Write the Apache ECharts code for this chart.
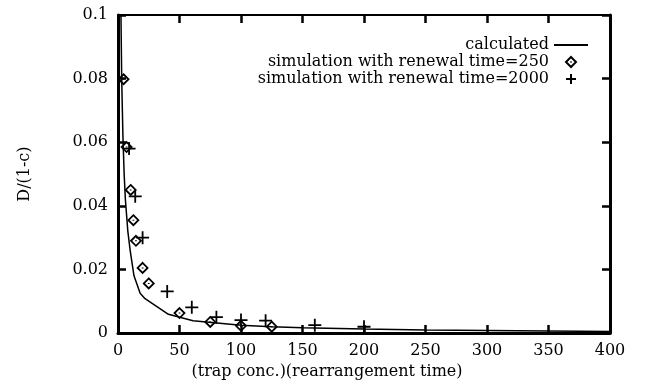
<!DOCTYPE html>
<html>
<head>
<meta charset="utf-8">
<script src="https://cdn.jsdelivr.net/npm/echarts@6/dist/echarts.min.js"></script>
<style>
  html,body{margin:0;padding:0;background:#fff}
  #chart{width:645px;height:385px}
</style>
</head>
<body>
<div id="chart"></div>
<script>
// calculated curve
var calcX = [2.4, 3, 4, 5, 6, 8, 10, 13, 18, 22, 41, 61, 100, 125, 150, 200, 250, 300, 400]
var calcY = [0.1, 0.08, 0.062, 0.05, 0.042, 0.032, 0.0257, 0.018, 0.0125, 0.0108, 0.0059, 0.0039, 0.0025, 0.002, 0.0017, 0.0013, 0.001, 0.0008, 0.0005]
// simulation, renewal time 250 (diamonds)
var sim250X = [4.5, 7, 10.3, 12.5, 14.6, 20, 25, 50, 75, 100, 125]
var sim250Y = [0.0798, 0.0585, 0.045, 0.0355, 0.029, 0.0205, 0.0156, 0.0063, 0.0035, 0.0023, 0.002]
// simulation, renewal time 2000 (pluses)
var sim2000X = [9, 14, 20, 40, 60, 80, 100, 120, 160, 200]
var sim2000Y = [0.058, 0.043, 0.030, 0.0131, 0.0081, 0.005, 0.0041, 0.0039, 0.0025, 0.002]

var font = 'DejaVu Serif'
function pairs(xs, ys){
  var out = []
  for (var i = 0; i < xs.length; i++) out.push([xs[i], ys[i]])
  return out
}

var diamondPath = 'path://M5,0 L10,5 L5,10 L0,5 Z M5,4.5 L5,5.5'
var plusPath = 'path://M0,5 L10,5 M5,0 L5,10'

var chart = echarts.init(document.getElementById('chart'), null, {renderer:'canvas'})

function line(w){ return {show:true, onZero:false, lineStyle:{color:'#000', width:w}} }
function tick(){ return {show:true, inside:true, length:8, lineStyle:{color:'#000', width:2.5}} }
var labelStyle = {fontFamily:font, fontSize:16, color:'#000', margin:10}

chart.setOption({
  animation:false,
  grid:{left:118, right:35, top:15, bottom:47, containLabel:false},
  legend:{
    orient:'vertical', right:51, top:32, align:'right',
    itemWidth:34, itemHeight:10, itemGap:1,
    textStyle:{fontFamily:font, fontSize:16, color:'#000'},
    data:[
      {name:'calculated', itemStyle:{opacity:0}},
      'simulation with renewal time=250',
      'simulation with renewal time=2000'
    ]
  },
  xAxis:[{
    type:'value', min:0, max:400, interval:50,
    name:'(trap conc.)(rearrangement time)', nameLocation:'middle', nameGap:29,
    nameTextStyle:{fontFamily:font, fontSize:16, color:'#000', padding:[0,74,0,0]},
    axisLine:line(3), axisTick:tick(), splitLine:{show:false},
    axisLabel:labelStyle
  },{
    type:'value', position:'top', min:0, max:400, interval:50,
    axisLine:line(2), axisTick:tick(),
    axisLabel:{show:false}, splitLine:{show:false}
  }],
  yAxis:[{
    type:'value', min:0, max:0.1, interval:0.02,
    name:'D/(1-c)', nameLocation:'middle', nameGap:85,
    nameTextStyle:{fontFamily:font, fontSize:16, color:'#000'},
    axisLine:line(3), axisTick:tick(), splitLine:{show:false},
    axisLabel:labelStyle
  },{
    type:'value', position:'right', min:0, max:0.1, interval:0.02,
    axisLine:line(3), axisTick:tick(),
    axisLabel:{show:false}, splitLine:{show:false}
  }],
  series:[{
    name:'calculated', type:'line', data:pairs(calcX, calcY),
    symbol:'none', lineStyle:{color:'#000', width:1.5}, itemStyle:{color:'#000'}
  },{
    name:'simulation with renewal time=250', type:'scatter', data:pairs(sim250X, sim250Y),
    symbol:diamondPath, symbolSize:10,
    itemStyle:{color:'rgba(0,0,0,0)', borderColor:'#000', borderWidth:1.8, opacity:1}
  },{
    name:'simulation with renewal time=2000', type:'scatter', data:pairs(sim2000X, sim2000Y),
    symbol:plusPath, symbolSize:13,
    itemStyle:{color:'rgba(0,0,0,0)', borderColor:'#000', borderWidth:1.8, opacity:1}
  }]
})
</script>
</body>
</html>
